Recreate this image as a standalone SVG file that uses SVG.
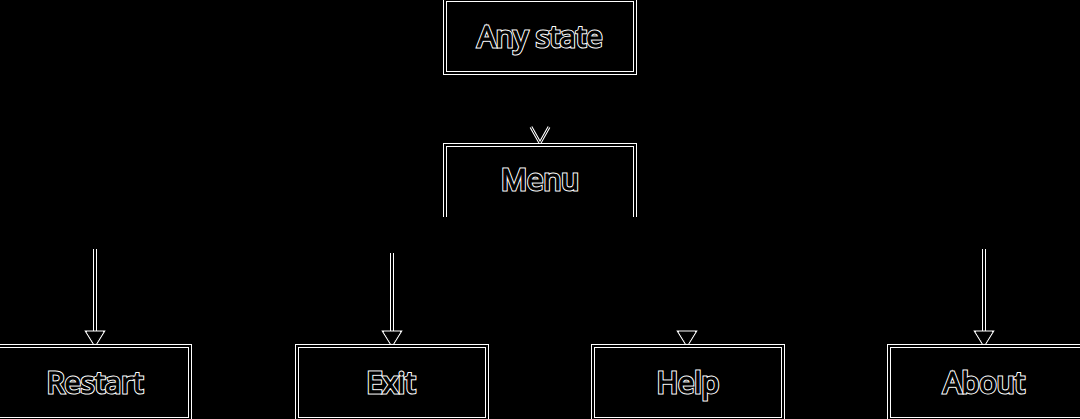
<svg xmlns="http://www.w3.org/2000/svg" width="1080" height="419" viewBox="0 0 1080 419">
<defs>
<style>
.bo{fill:none;stroke:#fff;stroke-width:4}
.bi{fill:none;stroke:#000;stroke-width:2}
.to{font-family:"Open Sans","Liberation Sans",sans-serif;font-size:29px;text-anchor:middle;fill:#000;stroke:#fff;stroke-width:3}
.ti{font-family:"Open Sans","Liberation Sans",sans-serif;font-size:29px;text-anchor:middle;fill:#000;stroke:#000;stroke-width:1}
.lo{stroke:#fff;stroke-width:4;fill:none}
.li{stroke:#000;stroke-width:2;fill:none}
.ho{fill:#000;stroke:#fff;stroke-width:3;stroke-linejoin:miter}
.hi{fill:#000;stroke:#000;stroke-width:1}
.vo{fill:none;stroke:#fff;stroke-width:3}
.vi{fill:none;stroke:#000;stroke-width:1}
</style>
</defs>
<rect width="1080" height="419" fill="#000"/>
<g id="connectors">
<line x1="540" y1="73" x2="540" y2="143" stroke="#000" stroke-width="2"/>
<path class="vo" d="M531,127 L540,143 L549,127"/>
<path class="vi" d="M531,127 L540,143 L549,127"/>
<line class="lo" x1="95" y1="249" x2="95" y2="332"/>
<line class="li" x1="95" y1="249" x2="95" y2="332"/>
<path class="ho" d="M87,332 L103,332 L95,345 Z"/>
<path class="hi" d="M87,332 L103,332 L95,345 Z"/>
<line class="lo" x1="392" y1="253" x2="392" y2="332"/>
<line class="li" x1="392" y1="253" x2="392" y2="332"/>
<path class="ho" d="M384,332 L400,332 L392,345 Z"/>
<path class="hi" d="M384,332 L400,332 L392,345 Z"/>
<line x1="540" y1="218" x2="687" y2="332" stroke="#000" stroke-width="2"/>
<path class="ho" d="M679,332 L695,332 L687,345 Z"/>
<path class="hi" d="M679,332 L695,332 L687,345 Z"/>
<line class="lo" x1="984" y1="249" x2="984" y2="332"/>
<line class="li" x1="984" y1="249" x2="984" y2="332"/>
<path class="ho" d="M976,332 L992,332 L984,345 Z"/>
<path class="hi" d="M976,332 L992,332 L984,345 Z"/>
</g>
<g id="node-any-state">
<rect class="bo" x="445" y="0" width="190" height="73"/>
<rect class="bi" x="445" y="0" width="190" height="73"/>
<text class="to" x="540" y="47">Any state</text>
<text class="ti" x="540" y="47">Any state</text>
</g>
<g id="node-menu">
<path class="bo" d="M445,217 L445,145 L635,145 L635,217"/>
<path class="bi" d="M445,217 L445,145 L635,145 L635,217"/>
<text class="to" x="540" y="190">Menu</text>
<text class="ti" x="540" y="190">Menu</text>
</g>
<g id="node-restart">
<rect class="bo" x="-5" y="346" width="195" height="73"/>
<rect class="bi" x="-5" y="346" width="195" height="73"/>
<text class="to" x="95" y="393">Restart</text>
<text class="ti" x="95" y="393">Restart</text>
</g>
<g id="node-exit">
<rect class="bo" x="297" y="346" width="190" height="73"/>
<rect class="bi" x="297" y="346" width="190" height="73"/>
<text class="to" x="391" y="393">Exit</text>
<text class="ti" x="391" y="393">Exit</text>
</g>
<g id="node-help">
<rect class="bo" x="593" y="346" width="190" height="73"/>
<rect class="bi" x="593" y="346" width="190" height="73"/>
<text class="to" x="688" y="393">Help</text>
<text class="ti" x="688" y="393">Help</text>
</g>
<g id="node-about">
<rect class="bo" x="889" y="346" width="196" height="73"/>
<rect class="bi" x="889" y="346" width="196" height="73"/>
<text class="to" x="984" y="393">About</text>
<text class="ti" x="984" y="393">About</text>
</g>
</svg>
